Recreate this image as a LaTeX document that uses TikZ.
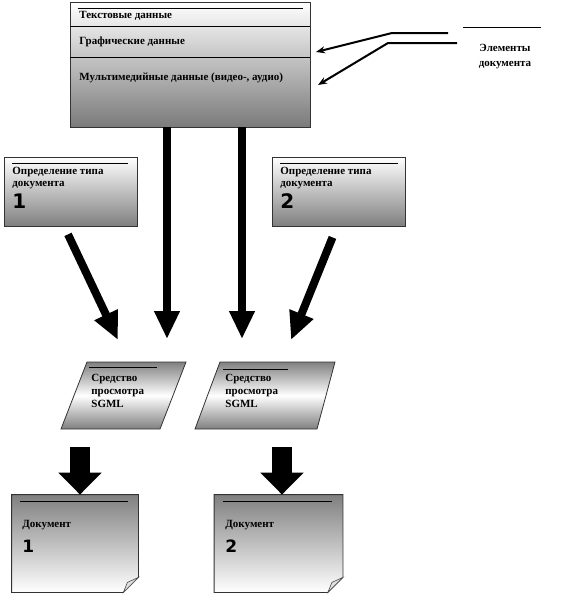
\documentclass[tikz,border=0pt]{standalone}
\usepackage{fontspec}
\setmainfont{Liberation Serif}
\newfontfamily\digitfont{DejaVu Sans}
\usetikzlibrary{arrows.meta}

\begin{document}
\begin{tikzpicture}[x=1pt,y=-1pt,line width=0.8pt,
   lbl/.style={anchor=west,align=left,inner sep=0pt,font=\fontsize{11}{11.5}\selectfont\bfseries},
   num/.style={anchor=west,inner sep=0pt,font=\digitfont\bfseries\fontsize{20}{20}\selectfont},
   card/.style={draw=black!80,top color=white,bottom color=black!50,minimum width=133,minimum height=69,inner sep=0pt},
   para/.style={draw=black!80,top color=black!50,bottom color=black!50,middle color=white},
   fat/.style={line width=8pt,-{Triangle[length=28pt,width=24pt]}},
   wide/.style={line width=20pt,-{Triangle[length=22pt,width=42pt]}},
   thin/.style={line width=2pt,-{Stealth[length=9pt,width=7pt]}}]
  \useasboundingbox (0,0) rectangle (562,595);

  % data block
  \node[draw=black!80,top color=white,bottom color=black!52,minimum width=240,minimum height=125,inner sep=0pt] (data) at (190,64.5) {};
  \draw[line width=0.6pt] (78,8) -- (303,8);
  \draw (70,26) -- (310,26);
  \draw (70,57) -- (310,57);
  \node[lbl] (text) at (79,16) {Текстовые данные};
  \node[lbl] (graph) at (79,42) {Графические данные};
  \node[lbl] (media) at (79,78) {Мультимедийные данные (видео-, аудио)};

  % elements label
  \draw (463,27) -- (541,27);
  \node[lbl,anchor=center,align=center,font=\fontsize{11}{15}\selectfont\bfseries] (elems) at (505,57) {Элементы\\документа};
  \coordinate (e1) at (448,33);
  \coordinate (e2) at (457,43);
  \coordinate (t1) at (316,52);
  \coordinate (t2) at (318,85);
  \draw[thin] (e1) -- (392,33) -- (t1);
  \draw[thin] (e2) -- (388,43) -- (t2);

  % DTD boxes
  \node[card] (dtd1) at (71,191.5) {};
  \node[card] (dtd2) at (338.5,191.5) {};
  \draw[line width=0.6pt] (12,163) -- (128,163);
  \draw[line width=0.6pt] (280,163) -- (398,163);
  \node[lbl] (dtdtext1) at (12,178) {Определение типа\\документа};
  \node[lbl] (dtdtext2) at (280,178) {Определение типа\\документа};
  \node[num] (dtdnum1) at (12,201) {1};
  \node[num] (dtdnum2) at (280,201) {2};

  % arrows to viewers
  \coordinate (in1) at (118,340);
  \coordinate (in2) at (167,339);
  \coordinate (in3) at (242,339);
  \coordinate (in4) at (291,340);
  \draw[fat] ([shift={(-3,8)}]dtd1.south) -- (in1);
  \draw[fat] ([xshift=-23pt]data.south) -- (in2);
  \draw[fat] ([xshift=52pt]data.south) -- (in3);
  \draw[fat] ([shift={(-6,11)}]dtd2.south) -- (in4);

  % viewers
  \shade[para] (87,362) -- (186,362) -- (160,429) -- (61,429) -- cycle;
  \shade[para] (220,362) -- (335,362) -- (317,429) -- (195,429) -- cycle;
  \node[inner sep=0pt,minimum width=100,minimum height=67] (view1) at (123.5,395.5) {};
  \node[inner sep=0pt,minimum width=118,minimum height=67] (view2) at (266.5,395.5) {};
  \draw[line width=0.6pt] (89,367) -- (157,367);
  \draw[line width=0.6pt] (223,369) -- (288,369);
  \node[lbl,font=\fontsize{11}{13}\selectfont\bfseries] (viewtext1) at (91,391) {Средство\\просмотра\\SGML};
  \node[lbl,font=\fontsize{11}{13}\selectfont\bfseries] (viewtext2) at (225,391) {Средство\\просмотра\\SGML};

  % documents
  \node[minimum width=126,minimum height=97,inner sep=0pt] (doc1) at (75,543.5) {};
  \node[minimum width=128,minimum height=97,inner sep=0pt] (doc2) at (278.5,543.5) {};
  \foreach \d in {doc1,doc2}{
    \shade[draw=black!80,top color=black!50,bottom color=white]
      (\d.north west) -- (\d.north east) -- ([shift={(0,-15)}]\d.south east)
      -- ([shift={(-15,0)}]\d.south east) -- (\d.south west) -- cycle;
    \filldraw[draw=black!70,fill=black!12,line width=0.6pt]
      ([shift={(0,-15)}]\d.south east) -- ([shift={(-15,0)}]\d.south east) -- ([shift={(-11,-10)}]\d.south east) -- cycle;
  }
  \draw[line width=0.6pt] (20,501) -- (128,501);
  \draw[line width=0.6pt] (223,501) -- (332,501);
  \node[lbl] (doctext1) at (22,525) {Документ};
  \node[lbl] (doctext2) at (225,525) {Документ};
  \node[num,font=\digitfont\bfseries\fontsize{17}{17}\selectfont] (docnum1) at (22,546) {1};
  \node[num,font=\digitfont\bfseries\fontsize{17}{17}\selectfont] (docnum2) at (225,546) {2};

  \draw[wide] ([shift={(-43.5,18)}]view1.south) -- ([xshift=5pt]doc1.north);
  \draw[wide] ([shift={(15.5,18)}]view2.south) -- ([xshift=3.5pt]doc2.north);
\end{tikzpicture}
\end{document}
